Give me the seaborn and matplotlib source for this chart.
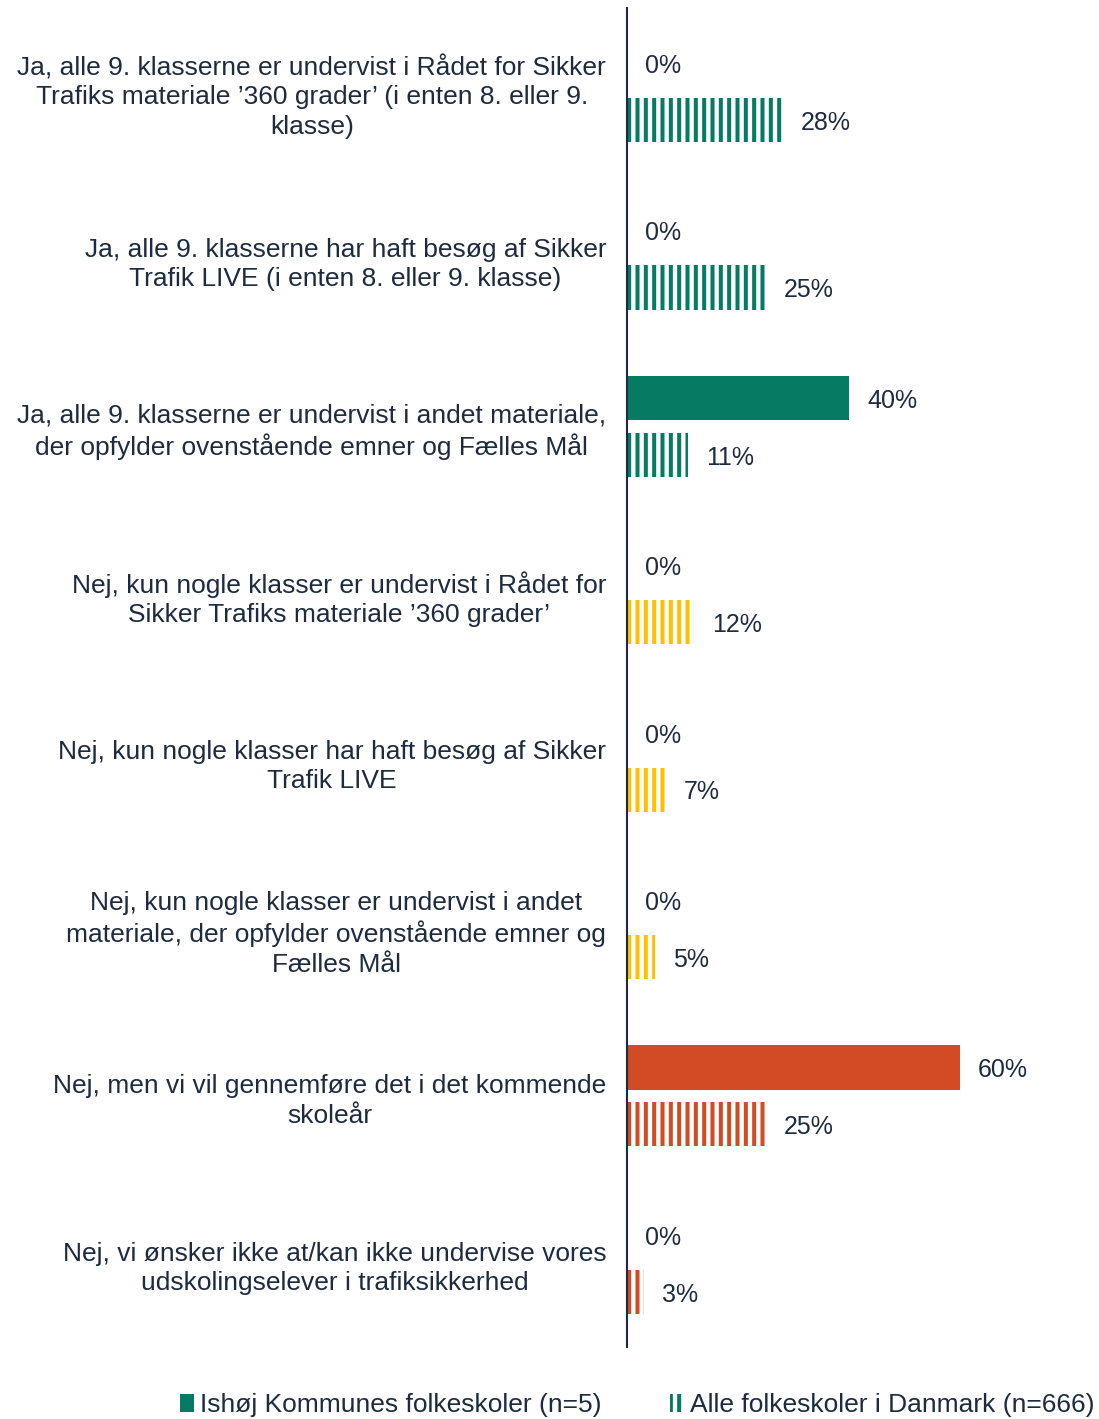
import matplotlib
matplotlib.use("Agg")
import matplotlib.pyplot as plt
import seaborn as sns
import pandas as pd
from matplotlib.patches import Patch

categories = [
    "Ja, alle 9. klasserne er undervist i Rådet for Sikker\nTrafiks materiale ’360 grader’ (i enten 8. eller 9.\nklasse)",
    "Ja, alle 9. klasserne har haft besøg af Sikker\nTrafik LIVE (i enten 8. eller 9. klasse)",
    "Ja, alle 9. klasserne er undervist i andet materiale,\nder opfylder ovenstående emner og Fælles Mål",
    "Nej, kun nogle klasser er undervist i Rådet for\nSikker Trafiks materiale ’360 grader’",
    "Nej, kun nogle klasser har haft besøg af Sikker\nTrafik LIVE",
    "Nej, kun nogle klasser er undervist i andet\nmateriale, der opfylder ovenstående emner og\nFælles Mål",
    "Nej, men vi vil gennemføre det i det kommende\nskoleår",
    "Nej, vi ønsker ikke at/kan ikke undervise vores\nudskolingselever i trafiksikkerhed",
]
ishoj = [0, 0, 40, 0, 0, 0, 60, 0]
danmark = [28, 25, 11, 12, 7, 5, 25, 3]
series_names = ["Ishøj Kommunes folkeskoler (n=5)", "Alle folkeskoler i Danmark (n=666)"]

GREEN, YELLOW, RED = "#067A63", "#FFC000", "#D24B25"
bar_colors = [GREEN] * 3 + [YELLOW] * 3 + [RED] * 2
TEXT = "#1C2B3F"

sns.set_theme(style="white")
plt.rcParams["font.family"] = ["Liberation Sans", "DejaVu Sans"]
plt.rcParams["hatch.linewidth"] = 2.9

df = pd.DataFrame({
    "kategori": categories * 2,
    "andel": ishoj + danmark,
    "serie": [series_names[0]] * len(categories) + [series_names[1]] * len(categories),
})

fig = plt.figure(figsize=(10.99, 14.19), dpi=100)
ax = fig.add_axes([627 / 1099, 1 - 1347 / 1419, (1090 - 627) / 1099, (1347 - 8) / 1419])

sns.barplot(data=df, y="kategori", x="andel", hue="serie", orient="h",
            width=0.68, gap=0.226, ax=ax, legend=False,
            palette=[GREEN, GREEN], errorbar=None)

solid, hatched = ax.containers[0], ax.containers[1]
for bar, c in zip(solid, bar_colors):
    bar.set_facecolor(c)
    bar.set_edgecolor("none")
    bar.set_linewidth(0)
for bar, c in zip(hatched, bar_colors):
    bar.set_facecolor("white")
    bar.set_edgecolor(c)
    bar.set_hatch("||")
    bar.set_linewidth(0)

FS_VAL = 18
FS_CAT = 19
anns = ax.bar_label(solid, labels=[f"{v}%" for v in ishoj], padding=13, fontsize=FS_VAL, color=TEXT)
anns += ax.bar_label(hatched, labels=[f"{v}%" for v in danmark], padding=13, fontsize=FS_VAL, color=TEXT)
for a in anns:
    a.xyann = (13, -2)

ax.set_xlim(0, (1090 - 627) / 5.55)
ax.set_ylim(len(categories) - 0.5, -0.5)
ax.set_xlabel("")
ax.set_ylabel("")
ax.set_xticks([])
ax.tick_params(axis="y", length=0, pad=15, labelsize=FS_CAT, labelcolor=TEXT)
for lab in ax.get_yticklabels():
    lab.set_multialignment("center")
    lab.set_linespacing(1.28)

for s in ["top", "right", "bottom"]:
    ax.spines[s].set_visible(False)
ax.spines["left"].set_color(TEXT)
ax.spines["left"].set_linewidth(1.5)

handles = [
    Patch(facecolor=GREEN, edgecolor="none"),
    Patch(facecolor="white", edgecolor=GREEN, hatch="||", linewidth=0),
]
fig.legend(handles, series_names, loc="center", bbox_to_anchor=(0.58, 1 - 1405 / 1419),
           ncol=2, frameon=False, fontsize=FS_CAT, labelcolor=TEXT,
           handlelength=0.5, handleheight=0.7, handletextpad=0.25, columnspacing=2.6,
           borderaxespad=0, borderpad=0)

fig.savefig("out.png", dpi=100)
